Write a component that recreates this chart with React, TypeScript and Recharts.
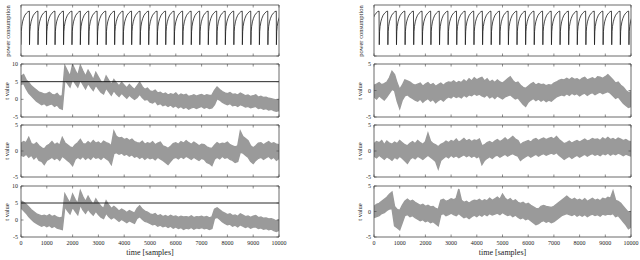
import React from "react";
import { ComposedChart, Area, Line, XAxis, YAxis, ReferenceLine } from "recharts";

// ─── data ─────────────────────────────────────────────────────────────────────
const TIME_STEP = 100; // samples between envelope points
const X_TICKS = [0, 1000, 2000, 3000, 4000, 5000, 6000, 7000, 8000, 9000, 10000];
const T_TICKS_WIDE = [-5, 0, 5, 10];
const T_TICKS = [-5, 0, 5];
const THRESHOLD = 5;

// power trace: one charge cycle (offset in samples, relative level) + cycle starts
const CYCLE_SHAPE: [number, number][] = [
  [0, 0.22], [12, 0.48], [30, 0.58], [60, 0.67], [100, 0.74],
  [150, 0.8], [210, 0.84], [270, 0.87], [325, 0.88],
];
const LEFT_CYCLE_STARTS = [
  0, 330, 660, 990, 1320, 1650, 1975, 2300, 2625, 2960, 3300, 3630, 3960, 4290, 4620,
  4950, 5280, 5610, 5940, 6270, 6600, 6930, 7260, 7590, 7920, 8250, 8580, 8910, 9240, 9570, 9900,
];
const RIGHT_CYCLE_STARTS = [
  -130, 205, 540, 875, 1210, 1545, 1880, 2215, 2550, 2885, 3220, 3555, 3890, 4225, 4560,
  4895, 5230, 5565, 5900, 6235, 6570, 6905, 7240, 7575, 7910, 8245, 8580, 8915, 9250, 9585, 9920,
];

// t-value traces, min / max of the grey band every 100 samples
const L2_LO = [4.2, 4.5, 3.0, 1.8, 1.0, 0.2, -0.5, -1.0, -1.5, -1.2, -1.8, -1.5, -1.3, -2.0, -1.6, -2.5, -2.8,
  5.5, 4.5, 3.5, 5.8, 4.5, 3.5, 5.5, 4.2, 3.0, 4.5, 3.5, 2.5, 4.0, 3.0, 2.0, 1.5, 3.2, 2.2, 1.2, 2.5, 1.5, 0.8,
  1.8, 1.0, 0.3, 1.2, 0.5, 0.0, 0.5, 1.5, 0.5, -0.2, 0.0, -0.8, -1.0, -0.5, -1.5, -1.2, -1.8, -1.5, -2.0, -1.6,
  -2.2, -1.8, -2.4, -2.0, -2.6, -2.2, -2.8, -2.4, -2.2, -2.6, -2.3, -2.0, -2.5, -2.2, -2.6, -2.4, -1.5, 0.2,
  -0.2, -0.8, -1.2, -1.5, -1.2, -1.8, -1.6, -2.0, -1.5, -1.8, -2.2, -2.0, -2.4, -2.2, -2.0, -2.6, -2.4, -2.8,
  -2.6, -3.0, -2.8, -3.2, -3.4, -3.2];
const L2_HI = [6.5, 7.0, 5.5, 4.8, 3.8, 3.2, 2.6, 2.0, 1.8, 1.5, 1.6, 2.0, 1.4, 1.2, 1.7, 0.8, 1.0,
  9.5, 8.0, 6.5, 9.8, 8.2, 6.8, 9.6, 8.0, 6.5, 8.2, 7.0, 5.5, 7.6, 6.3, 5.0, 4.5, 6.6, 5.4, 4.2, 5.6, 4.6, 3.8,
  4.8, 4.0, 3.2, 4.2, 3.4, 2.8, 3.8, 4.8, 3.6, 2.8, 3.2, 2.4, 2.2, 2.6, 1.8, 2.0, 1.5, 1.8, 1.2, 1.6,
  1.3, 1.8, 1.0, 1.5, 1.2, 1.4, 0.8, 1.0, 1.3, 0.9, 1.2, 1.4, 1.0, 1.3, 1.1, 1.2, 2.5, 3.5,
  2.8, 2.2, 1.8, 1.6, 1.9, 1.4, 1.5, 1.2, 1.8, 1.4, 1.0, 1.2, 0.8, 1.0, 1.3, 0.6, 0.9, 0.5,
  0.6, 0.3, 0.2, 0.0, -0.2, 0.0];

const L3_LO = [-0.8, -1.0, -0.6, -1.2, -0.8, -1.5, -1.0, -1.8, -2.0, -2.6, -1.8, -1.5, -1.2, -1.6, -1.3, -1.8,
  -1.0, -1.4, -1.8, -2.2, -2.8, -1.6, -1.2, -1.5, -1.0, -1.6, -1.2, -1.6, -1.0, -1.4, -1.2, -1.6, -1.1, -1.5,
  -1.8, -2.6, -0.5, -0.3, -0.6, -0.4, -0.8, -0.6, -1.0, -0.7, -1.2, -1.0, -1.4, -1.1, -1.6, -1.2, -1.5, -1.3,
  -1.7, -1.2, -1.5, -1.8, -2.2, -2.6, -2.0, -1.4, -1.2, -1.5, -1.1, -1.4, -1.0, -1.3, -1.6, -1.2, -1.5, -1.8,
  -1.4, -1.6, -2.2, -2.4, -2.8, -1.6, -1.2, -1.5, -1.0, -1.4, -1.2, -1.6, -1.8, -2.2, -2.0, -0.2, -0.4, -0.8,
  -1.2, -2.0, -2.4, -1.8, -1.4, -1.2, -1.6, -1.3, -1.0, -1.5, -1.2, -1.8, -1.4];
const L3_HI = [1.5, 1.8, 1.6, 2.6, 1.4, 1.2, 1.6, 1.0, 0.6, 0.4, 1.0, 1.3, 1.8, 1.2, 1.5, 1.1,
  2.6, 1.6, 1.2, 0.8, 0.6, 1.2, 1.6, 2.2, 1.4, 1.3, 1.8, 1.4, 2.0, 1.5, 1.7, 1.3, 1.9, 1.6,
  1.4, 1.0, 3.8, 2.8, 2.5, 2.6, 2.2, 2.4, 2.0, 2.3, 1.8, 1.6, 1.5, 1.9, 1.3, 1.6, 1.4, 1.8,
  1.2, 1.5, 1.7, 1.0, 0.8, 0.5, 0.9, 1.4, 1.6, 1.3, 1.8, 1.5, 2.0, 1.6, 1.3, 1.7, 1.4, 1.0,
  1.3, 1.2, 0.8, 0.6, 0.5, 1.1, 1.6, 1.3, 1.5, 1.4, 1.7, 1.2, 1.0, 0.8, 1.0, 3.8, 2.8, 2.4,
  2.0, 1.0, 0.6, 1.0, 1.5, 1.6, 1.2, 1.5, 1.8, 1.4, 1.6, 1.3, 1.2];

const L4_LO = [3.5, 2.8, 2.0, 1.0, 0.2, -0.5, -1.0, -1.4, -1.8, -1.5, -2.0, -1.6, -2.2, -1.8, -2.4, -2.6, -2.8,
  4.0, 2.8, 1.8, 3.8, 2.6, 1.6, 4.5, 3.0, 2.0, 3.2, 2.2, 1.4, 2.6, 1.6, 0.8, 0.4, 2.0, 1.0, 0.3, 0.8, 0.2, -0.4,
  0.2, -0.3, -0.8, -0.2, -0.6, -1.0, 0.5, 1.0, 0.2, -0.4, -0.6, -1.0, -1.4, -1.2, -1.8, -1.5, -2.0, -1.7, -2.2,
  -1.8, -2.4, -2.0, -2.5, -2.2, -2.8, -2.4, -2.6, -2.2, -2.7, -2.3, -2.5, -2.2, -2.6, -2.4, -2.8, -2.5, 0.5,
  0.8, 0.2, -0.5, -1.0, -1.4, -1.2, -1.8, -1.5, -2.0, -1.4, -1.8, -2.2, -1.9, -2.4, -2.1, -2.0, -2.5, -2.3,
  -2.7, -2.5, -2.9, -2.7, -3.1, -3.4, -3.0];
const L4_HI = [5.6, 5.2, 4.6, 3.8, 3.0, 2.4, 1.8, 1.5, 1.2, 1.4, 1.1, 1.6, 1.0, 1.3, 0.8, 0.6, 0.8,
  7.6, 6.2, 5.0, 7.6, 6.0, 4.8, 8.6, 6.8, 5.4, 7.0, 5.6, 4.5, 6.2, 5.0, 4.0, 3.4, 5.6, 4.4, 3.4, 4.0, 3.4, 2.6,
  3.2, 2.8, 2.2, 2.8, 2.4, 2.0, 3.4, 4.2, 3.2, 2.6, 2.3, 1.8, 1.6, 1.9, 1.2, 1.5, 1.0, 1.3, 0.9,
  1.4, 1.0, 1.2, 0.8, 1.1, 0.9, 1.0, 0.8, 1.2, 0.7, 1.0, 0.9, 1.1, 0.8, 1.0, 0.6, 0.9, 3.2,
  3.6, 3.0, 2.4, 2.0, 1.6, 1.8, 1.3, 1.5, 1.1, 1.8, 1.4, 1.0, 1.2, 0.8, 1.1, 1.3, 0.7, 0.9,
  0.5, 0.6, 0.3, 0.4, 0.1, -0.3, 0.1];

const R2_LO = [-1.2, -1.6, -1.0, -1.4, -1.8, -1.2, -0.5, 0.2, 0.0, -2.0, -3.4, -1.8, -1.0, -0.8, -1.2, -1.5,
  -1.8, -2.0, -1.6, -2.2, -1.8, -1.5, -2.0, -1.7, -2.3, -1.9, -1.6, -2.0, -1.5, -1.2, -1.4, -1.0, -1.3, -1.1,
  -1.4, -0.9, -1.2, -0.8, -1.0, -0.6, -0.9, -0.7, -1.0, -1.2, -0.8, -1.4, -1.1, -1.5, -1.0, -1.3, -1.6, -1.2,
  -1.0, -0.8, -1.2, -1.6, -1.4, -2.0, -2.6, -3.0, -2.2, -1.8, -1.5, -1.9, -1.6, -2.0, -1.7, -2.1, -1.8, -2.0,
  -1.6, -1.2, -1.0, -0.8, -1.0, -0.6, -0.9, -0.5, -0.8, -0.6, -1.0, -0.7, -0.5, -0.9, -0.6, -0.4, -0.8, -0.5,
  -0.3, -0.6, -0.4, -0.2, -0.5, -1.0, -1.5, -1.2, -1.8, -2.4, -2.8, -3.2, -3.0];
const R2_HI = [1.0, 1.2, 1.5, 1.1, 1.3, 1.6, 2.4, 3.6, 3.0, 1.4, 0.2, 1.0, 2.0, 1.8, 1.6, 1.2,
  1.0, 1.2, 1.4, 0.8, 1.2, 1.5, 1.0, 1.3, 0.8, 1.1, 1.4, 1.0, 1.4, 1.6, 1.5, 1.8, 1.4, 1.7,
  1.5, 2.0, 1.6, 2.2, 1.8, 2.4, 2.0, 2.3, 2.5, 1.8, 2.2, 1.6, 1.9, 1.5, 2.0, 1.6, 1.4, 1.8,
  2.2, 2.6, 1.9, 1.4, 1.6, 1.0, 0.6, 0.4, 0.8, 1.2, 1.5, 1.0, 1.3, 1.1, 1.2, 0.9, 1.1, 1.0,
  1.4, 1.6, 1.9, 2.1, 2.0, 2.3, 2.0, 2.4, 2.1, 2.2, 1.9, 2.3, 2.5, 2.0, 2.2, 2.4, 2.1, 2.6,
  2.5, 2.3, 2.6, 3.0, 2.5, 2.0, 1.4, 1.6, 1.0, 0.6, 0.0, -0.4, -0.2];

const R3_LO = [-1.0, -1.3, -0.8, -1.2, -1.6, -1.1, -1.4, -1.8, -1.2, -1.5, -1.0, -1.4, -1.9, -2.4, -1.6, -1.2,
  -1.5, -1.0, -1.3, -1.6, -1.2, -0.8, -1.2, -1.6, -2.0, -3.4, -1.8, -1.4, -1.0, -1.3, -0.8, -1.2, -0.9, -1.3,
  -1.0, -0.7, -1.1, -0.8, -1.2, -0.9, -1.3, -1.0, -2.6, -1.8, -1.4, -1.1, -1.4, -1.0, -0.8, -1.2, -0.9, -0.6,
  -1.0, -0.7, -0.5, -0.8, -1.0, -1.8, -1.4, -1.1, -0.8, -1.2, -0.9, -0.6, -1.0, -0.7, -0.5, -0.8, -0.6, -0.4,
  -0.6, -0.3, -0.8, -1.2, -1.6, -1.3, -1.0, -1.4, -1.1, -0.8, -1.2, -0.9, -0.6, -1.0, -0.7, -0.5, -0.8, -0.6,
  -0.9, -0.5, -0.7, -0.4, -0.8, -0.5, -0.7, -0.4, -0.6, -0.9, -0.6, -0.8, -1.0];
const R3_HI = [1.4, 1.8, 1.6, 2.0, 1.2, 1.9, 1.5, 1.3, 1.7, 1.4, 2.0, 1.6, 1.2, 1.0, 1.5, 1.8,
  1.4, 2.0, 1.6, 1.3, 1.8, 3.4, 1.9, 1.4, 1.2, 0.8, 1.3, 1.5, 1.9, 1.6, 2.0, 1.8, 2.3, 1.7,
  2.0, 2.4, 1.9, 2.2, 1.8, 2.1, 2.0, 2.3, 1.0, 1.2, 1.6, 1.8, 1.5, 1.9, 2.2, 1.8, 2.1, 2.5,
  2.0, 2.4, 2.8, 2.3, 2.0, 1.2, 1.6, 1.8, 2.0, 1.7, 2.2, 2.4, 2.0, 2.3, 2.5, 2.2, 2.4, 2.6,
  2.3, 2.8, 2.2, 1.8, 1.4, 1.6, 1.9, 1.5, 1.8, 2.0, 1.7, 2.0, 2.3, 1.9, 2.1, 2.4, 2.2, 2.3,
  2.0, 2.5, 2.2, 2.6, 2.2, 2.4, 2.1, 2.5, 2.3, 2.0, 2.2, 1.9, 1.8];

const R4_LO = [-1.2, -1.0, -0.8, -0.4, -0.2, 0.2, 0.5, 0.6, -2.8, -3.2, -3.6, -2.2, -0.8, -0.6, -1.0, -0.8,
  -1.2, -1.5, -1.8, -1.6, -2.0, -1.8, -2.2, -2.0, -2.4, -2.8, -0.6, -0.4, -0.8, -0.6, -0.3, -0.6, -0.8, -0.4,
  -0.8, -1.2, -1.0, -1.4, -1.0, -0.7, -1.0, -0.6, -0.9, -0.5, -0.8, -0.4, -0.7, -0.5, -0.3, -0.6, -0.2, -0.5,
  -0.8, -0.6, -1.0, -0.7, -1.1, -1.4, -1.2, -1.6, -1.4, -1.8, -2.2, -2.6, -2.4, -2.0, -1.8, -2.1, -1.9, -2.2,
  -2.0, -1.6, -1.2, -0.8, -0.6, -0.4, -0.6, -0.8, -0.5, -0.9, -0.6, -0.9, -0.6, -1.0, -0.7, -0.5, -0.8, -0.6,
  -0.9, -0.5, -0.7, -0.5, -0.6, -0.4, -1.0, -0.8, -1.4, -2.0, -2.6, -3.4, -3.0];
const R4_HI = [1.0, 1.4, 1.6, 2.0, 2.4, 2.8, 3.4, 3.8, 1.0, 0.4, 0.2, 1.2, 2.0, 2.4, 2.0, 2.2,
  1.8, 1.5, 1.2, 1.4, 1.0, 1.2, 0.9, 1.0, 0.6, 0.4, 2.2, 2.4, 2.0, 2.2, 2.5, 2.3, 2.6, 4.4,
  2.2, 1.8, 2.0, 1.6, 2.0, 2.2, 2.1, 2.4, 2.0, 2.3, 2.1, 2.6, 2.2, 2.5, 2.8, 2.4, 3.4, 2.6,
  2.2, 2.5, 2.0, 2.3, 1.8, 1.6, 1.8, 1.4, 1.6, 1.2, 0.9, 0.6, 0.5, 1.0, 1.2, 1.0, 0.9, 0.8,
  1.0, 1.4, 1.8, 2.2, 2.6, 3.0, 2.6, 2.3, 2.6, 2.2, 2.4, 2.1, 2.5, 2.0, 2.3, 2.6, 2.2, 2.4,
  2.1, 2.6, 2.4, 2.8, 2.6, 4.0, 2.2, 2.0, 1.6, 1.0, 0.4, -0.2, 0.0];

// ─── styling ──────────────────────────────────────────────────────────────────
const FONT = "'Liberation Serif', 'Times New Roman', serif";
const FRAME = "#444";
const BAND = "#9a9a9a";
const TICK_LEN = 2.5;
const ML = 24;
const MT = 4;

function bandRows(lo: number[], hi: number[]) {
  return lo.map((v, i) => ({ t: i * TIME_STEP, band: [v, hi[i]] }));
}

function powerRows(starts: number[]) {
  const rows: { t: number; p: number }[] = [];
  starts.forEach((s) => CYCLE_SHAPE.forEach(([dt, v]) => rows.push({ t: s + dt, p: v })));
  return rows;
}

const tickText = { fontFamily: FONT, fontSize: 6, fill: "#222" };

function makeTick(side: "bottom" | "top" | "left" | "right", showLabel: boolean) {
  return (props: any) => {
    const { x, y, payload } = props;
    if (side === "bottom") {
      return (
        <g>
          <line x1={x} x2={x} y1={y} y2={y - TICK_LEN} stroke={FRAME} strokeWidth={0.6} />
          {showLabel && (
            <text x={x} y={y + 8} textAnchor="middle" {...tickText}>{payload.value}</text>
          )}
        </g>
      );
    }
    if (side === "top") {
      return <line x1={x} x2={x} y1={y} y2={y + TICK_LEN} stroke={FRAME} strokeWidth={0.6} />;
    }
    if (side === "right") {
      return <line x1={x} x2={x - TICK_LEN} y1={y} y2={y} stroke={FRAME} strokeWidth={0.6} />;
    }
    return (
      <g>
        <line x1={x} x2={x + TICK_LEN} y1={y} y2={y} stroke={FRAME} strokeWidth={0.6} />
        {showLabel && (
          <text x={x - 3} y={y + 2} textAnchor="end" {...tickText}>{payload.value}</text>
        )}
      </g>
    );
  };
}

type PanelProps = {
  left: number;
  top: number;
  width: number;
  height: number;
  rows: any[];
  kind: "power" | "t";
  domain: [number, number];
  yTicks: number[];
  threshold?: boolean;
  showX?: boolean;
  yLabel: string;
};

function Panel({ left, top, width, height, rows, kind, domain, yTicks, threshold, showX, yLabel }: PanelProps) {
  const mb = showX ? 26 : 4;
  const mr = showX ? 14 : 4; // room for the "10000" label
  // axes are 1px thick boxes, so the margins give up that pixel
  const axisProps = {
    allowDataOverflow: true,
    interval: 0 as const,
    tickSize: 0,
    tickMargin: 0,
    tickLine: false,
    axisLine: { stroke: FRAME, strokeWidth: 0.8 },
  };
  return (
    <>
      <div style={{ position: "absolute", left: left - ML, top: top - MT }}>
        <ComposedChart
          width={ML + width + mr}
          height={MT + height + mb}
          data={rows}
          margin={{ top: MT - 1, right: mr - 1, bottom: mb - 1, left: ML - 1 }}
        >
          <XAxis
            {...axisProps}
            xAxisId="b"
            type="number"
            dataKey="t"
            domain={[0, 10000]}
            ticks={X_TICKS}
            height={1}
            tick={makeTick("bottom", !!showX)}
          />
          <XAxis
            {...axisProps}
            xAxisId="top"
            orientation="top"
            type="number"
            dataKey="t"
            domain={[0, 10000]}
            ticks={X_TICKS}
            height={1}
            tick={makeTick("top", false)}
          />
          <YAxis
            {...axisProps}
            yAxisId="l"
            type="number"
            domain={domain}
            ticks={kind === "t" ? yTicks : [domain[0]]}
            width={1}
            tick={makeTick("left", kind === "t")}
          />
          <YAxis
            {...axisProps}
            yAxisId="r"
            orientation="right"
            type="number"
            domain={domain}
            ticks={kind === "t" ? yTicks : [domain[0]]}
            width={1}
            tick={makeTick("right", false)}
          />
          {kind === "t" ? (
            <Area
              xAxisId="b"
              yAxisId="l"
              type="linear"
              dataKey="band"
              fill={BAND}
              fillOpacity={1}
              stroke={BAND}
              strokeWidth={1.4}
              isAnimationActive={false}
            />
          ) : (
            <Line
              xAxisId="b"
              yAxisId="l"
              type="linear"
              dataKey="p"
              stroke="#1a1a1a"
              strokeWidth={0.8}
              dot={false}
              isAnimationActive={false}
            />
          )}
          {threshold && (
            <ReferenceLine xAxisId="b" yAxisId="l" y={THRESHOLD} stroke="#111" strokeWidth={0.9} />
          )}
        </ComposedChart>
      </div>
      <div
        style={{
          position: "absolute",
          left: left - (kind === "t" ? 15 : 14),
          top: top + height / 2,
          transform: "translate(-50%, -50%) rotate(-90deg)",
          fontFamily: FONT,
          fontSize: 6.5,
          color: "#222",
          whiteSpace: "nowrap",
        }}
      >
        {yLabel}
      </div>
    </>
  );
}

const ROWS = [
  { top: 5, height: 51 },
  { top: 64, height: 53 },
  { top: 125, height: 52 },
  { top: 186, height: 51 },
];

export default function App() {
  const cols = [
    {
      left: 21,
      width: 258,
      power: powerRows(LEFT_CYCLE_STARTS),
      bands: [bandRows(L2_LO, L2_HI), bandRows(L3_LO, L3_HI), bandRows(L4_LO, L4_HI)],
      wide: [true, false, true],
    },
    {
      left: 374,
      width: 257,
      power: powerRows(RIGHT_CYCLE_STARTS),
      bands: [bandRows(R2_LO, R2_HI), bandRows(R3_LO, R3_HI), bandRows(R4_LO, R4_HI)],
      wide: [false, false, false],
    },
  ];
  return (
    <div
      style={{
        position: "absolute",
        left: 0,
        top: 0,
        width: 640,
        height: 260,
        background: "#fff",
        overflow: "hidden",
      }}
    >
      {cols.map((c, ci) => (
        <React.Fragment key={ci}>
          <Panel
            left={c.left}
            top={ROWS[0].top}
            width={c.width}
            height={ROWS[0].height}
            rows={c.power}
            kind="power"
            domain={[0, 1]}
            yTicks={[]}
            yLabel="power consumption"
          />
          {c.bands.map((rows, bi) => (
            <Panel
              key={bi}
              left={c.left}
              top={ROWS[bi + 1].top}
              width={c.width}
              height={ROWS[bi + 1].height}
              rows={rows}
              kind="t"
              domain={c.wide[bi] ? [-5, 10] : [-5, 5]}
              yTicks={c.wide[bi] ? T_TICKS_WIDE : T_TICKS}
              threshold={c.wide[bi]}
              showX={bi === 2}
              yLabel="t value"
            />
          ))}
          <div
            style={{
              position: "absolute",
              left: c.left + c.width / 2,
              top: 252,
              transform: "translate(-50%, -50%)",
              fontFamily: FONT,
              fontSize: 8,
              color: "#222",
              whiteSpace: "nowrap",
            }}
          >
            time [samples]
          </div>
        </React.Fragment>
      ))}
    </div>
  );
}
